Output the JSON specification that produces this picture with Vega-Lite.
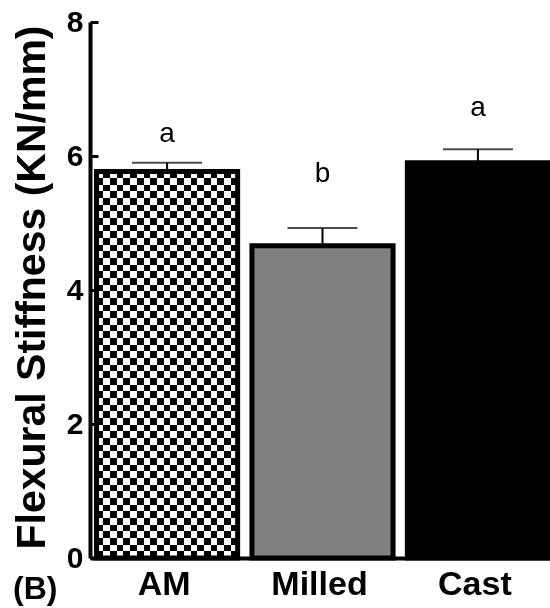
{
  "$schema": "https://vega.github.io/schema/vega-lite/v6.json",
  "width": 460,
  "height": 536,
  "autosize": {"type": "none"},
  "padding": {"left": 90, "top": 22, "right": 0, "bottom": 50},
  "background": "white",
  "config": {
    "font": "Liberation Sans",
    "view": {"stroke": null},
    "axisY": {"titleFontSize": 41, "titleFontWeight": "bold", "titleColor": "black", "titleX": -46, "titleY": 265, "titleBaseline": "alphabetic", "titleAlign": "center", "tickCount": 4, "format": "d", "labelFontSize": 30, "labelFontWeight": "bold", "labelColor": "black", "labelPadding": 15, "tickSize": -8, "tickWidth": 3, "tickColor": "black", "domainColor": "black", "domainWidth": 4, "grid": false, "zindex": 1},
    "axisX": {"labelAngle": 0, "labelFontSize": 34, "labelFontWeight": "bold", "labelColor": "black", "labelPadding": 16, "labelOffset": -3, "tickSize": -7, "tickWidth": 4, "tickColor": "black", "domainColor": "black", "domainWidth": 4, "zindex": 1}
  },
  "title": {"text": "(B)", "orient": "bottom", "anchor": "start", "frame": "group", "dx": -77, "offset": -27, "fontSize": 32, "fontWeight": "bold", "color": "black"},
  "data": {"values": [
    {"group": "AM", "value": 5.77, "err": 5.9, "sig": "a", "sigY": 6.21},
    {"group": "Milled", "value": 4.66, "err": 4.925, "sig": "b", "sigY": 5.61},
    {"group": "Cast", "value": 5.9, "err": 6.1, "sig": "a", "sigY": 6.6}
  ]},
  "encoding": {
    "x": {"field": "group", "type": "nominal", "sort": ["AM", "Milled", "Cast"], "title": null,
      "scale": {"range": [0, 465], "paddingInner": 0.092, "paddingOuter": 0.042}}
  },
  "layer": [
    {
      "transform": [{"filter": "datum.group != 'AM'"}],
      "mark": {"type": "bar", "stroke": "black", "strokeWidth": 5},
      "encoding": {
        "y": {"field": "value", "type": "quantitative", "scale": {"domain": [0, 8]}, "title": "Flexural Stiffness (KN/mm)"},
        "color": {"field": "group", "type": "nominal", "scale": {"domain": ["AM", "Milled", "Cast"], "range": ["#ffffff", "#808080", "#000000"]}, "legend": null}
      }
    },
    {
      "transform": [{"filter": "datum.group == 'AM'"}],
      "mark": {"type": "bar", "fill": {"gradient": "linear", "x1": 0, "y1": 0, "x2": 1, "y2": 0, "stops": [
        {"offset":0,"color":"#000"},{"offset":0.047619,"color":"#000"},
        {"offset":0.047619,"color":"#fff"},{"offset":0.095238,"color":"#fff"},
        {"offset":0.095238,"color":"#000"},{"offset":0.142857,"color":"#000"},
        {"offset":0.142857,"color":"#fff"},{"offset":0.190476,"color":"#fff"},
        {"offset":0.190476,"color":"#000"},{"offset":0.238095,"color":"#000"},
        {"offset":0.238095,"color":"#fff"},{"offset":0.285714,"color":"#fff"},
        {"offset":0.285714,"color":"#000"},{"offset":0.333333,"color":"#000"},
        {"offset":0.333333,"color":"#fff"},{"offset":0.380952,"color":"#fff"},
        {"offset":0.380952,"color":"#000"},{"offset":0.428571,"color":"#000"},
        {"offset":0.428571,"color":"#fff"},{"offset":0.47619,"color":"#fff"},
        {"offset":0.47619,"color":"#000"},{"offset":0.52381,"color":"#000"},
        {"offset":0.52381,"color":"#fff"},{"offset":0.571429,"color":"#fff"},
        {"offset":0.571429,"color":"#000"},{"offset":0.619048,"color":"#000"},
        {"offset":0.619048,"color":"#fff"},{"offset":0.666667,"color":"#fff"},
        {"offset":0.666667,"color":"#000"},{"offset":0.714286,"color":"#000"},
        {"offset":0.714286,"color":"#fff"},{"offset":0.761905,"color":"#fff"},
        {"offset":0.761905,"color":"#000"},{"offset":0.809524,"color":"#000"},
        {"offset":0.809524,"color":"#fff"},{"offset":0.857143,"color":"#fff"},
        {"offset":0.857143,"color":"#000"},{"offset":0.904762,"color":"#000"},
        {"offset":0.904762,"color":"#fff"},{"offset":0.952381,"color":"#fff"},
        {"offset":0.952381,"color":"#000"},{"offset":1,"color":"#000"}
      ]}},
      "encoding": {
        "y": {"field": "value", "type": "quantitative", "scale": {"domain": [0, 8]}, "title": "Flexural Stiffness (KN/mm)"}
      }
    },
    {
      "transform": [{"filter": "datum.group == 'AM'"}],
      "mark": {"type": "bar", "blend": "difference", "fill": {"gradient": "linear", "x1": 0, "y1": 0, "x2": 0, "y2": 1, "stops": [
        {"offset":0,"color":"#fff"},{"offset":0.017241,"color":"#fff"},
        {"offset":0.017241,"color":"#000"},{"offset":0.034483,"color":"#000"},
        {"offset":0.034483,"color":"#fff"},{"offset":0.051724,"color":"#fff"},
        {"offset":0.051724,"color":"#000"},{"offset":0.068966,"color":"#000"},
        {"offset":0.068966,"color":"#fff"},{"offset":0.086207,"color":"#fff"},
        {"offset":0.086207,"color":"#000"},{"offset":0.103448,"color":"#000"},
        {"offset":0.103448,"color":"#fff"},{"offset":0.12069,"color":"#fff"},
        {"offset":0.12069,"color":"#000"},{"offset":0.137931,"color":"#000"},
        {"offset":0.137931,"color":"#fff"},{"offset":0.155172,"color":"#fff"},
        {"offset":0.155172,"color":"#000"},{"offset":0.172414,"color":"#000"},
        {"offset":0.172414,"color":"#fff"},{"offset":0.189655,"color":"#fff"},
        {"offset":0.189655,"color":"#000"},{"offset":0.206897,"color":"#000"},
        {"offset":0.206897,"color":"#fff"},{"offset":0.224138,"color":"#fff"},
        {"offset":0.224138,"color":"#000"},{"offset":0.241379,"color":"#000"},
        {"offset":0.241379,"color":"#fff"},{"offset":0.258621,"color":"#fff"},
        {"offset":0.258621,"color":"#000"},{"offset":0.275862,"color":"#000"},
        {"offset":0.275862,"color":"#fff"},{"offset":0.293103,"color":"#fff"},
        {"offset":0.293103,"color":"#000"},{"offset":0.310345,"color":"#000"},
        {"offset":0.310345,"color":"#fff"},{"offset":0.327586,"color":"#fff"},
        {"offset":0.327586,"color":"#000"},{"offset":0.344828,"color":"#000"},
        {"offset":0.344828,"color":"#fff"},{"offset":0.362069,"color":"#fff"},
        {"offset":0.362069,"color":"#000"},{"offset":0.37931,"color":"#000"},
        {"offset":0.37931,"color":"#fff"},{"offset":0.396552,"color":"#fff"},
        {"offset":0.396552,"color":"#000"},{"offset":0.413793,"color":"#000"},
        {"offset":0.413793,"color":"#fff"},{"offset":0.431034,"color":"#fff"},
        {"offset":0.431034,"color":"#000"},{"offset":0.448276,"color":"#000"},
        {"offset":0.448276,"color":"#fff"},{"offset":0.465517,"color":"#fff"},
        {"offset":0.465517,"color":"#000"},{"offset":0.482759,"color":"#000"},
        {"offset":0.482759,"color":"#fff"},{"offset":0.5,"color":"#fff"},
        {"offset":0.5,"color":"#000"},{"offset":0.517241,"color":"#000"},
        {"offset":0.517241,"color":"#fff"},{"offset":0.534483,"color":"#fff"},
        {"offset":0.534483,"color":"#000"},{"offset":0.551724,"color":"#000"},
        {"offset":0.551724,"color":"#fff"},{"offset":0.568966,"color":"#fff"},
        {"offset":0.568966,"color":"#000"},{"offset":0.586207,"color":"#000"},
        {"offset":0.586207,"color":"#fff"},{"offset":0.603448,"color":"#fff"},
        {"offset":0.603448,"color":"#000"},{"offset":0.62069,"color":"#000"},
        {"offset":0.62069,"color":"#fff"},{"offset":0.637931,"color":"#fff"},
        {"offset":0.637931,"color":"#000"},{"offset":0.655172,"color":"#000"},
        {"offset":0.655172,"color":"#fff"},{"offset":0.672414,"color":"#fff"},
        {"offset":0.672414,"color":"#000"},{"offset":0.689655,"color":"#000"},
        {"offset":0.689655,"color":"#fff"},{"offset":0.706897,"color":"#fff"},
        {"offset":0.706897,"color":"#000"},{"offset":0.724138,"color":"#000"},
        {"offset":0.724138,"color":"#fff"},{"offset":0.741379,"color":"#fff"},
        {"offset":0.741379,"color":"#000"},{"offset":0.758621,"color":"#000"},
        {"offset":0.758621,"color":"#fff"},{"offset":0.775862,"color":"#fff"},
        {"offset":0.775862,"color":"#000"},{"offset":0.793103,"color":"#000"},
        {"offset":0.793103,"color":"#fff"},{"offset":0.810345,"color":"#fff"},
        {"offset":0.810345,"color":"#000"},{"offset":0.827586,"color":"#000"},
        {"offset":0.827586,"color":"#fff"},{"offset":0.844828,"color":"#fff"},
        {"offset":0.844828,"color":"#000"},{"offset":0.862069,"color":"#000"},
        {"offset":0.862069,"color":"#fff"},{"offset":0.87931,"color":"#fff"},
        {"offset":0.87931,"color":"#000"},{"offset":0.896552,"color":"#000"},
        {"offset":0.896552,"color":"#fff"},{"offset":0.913793,"color":"#fff"},
        {"offset":0.913793,"color":"#000"},{"offset":0.931034,"color":"#000"},
        {"offset":0.931034,"color":"#fff"},{"offset":0.948276,"color":"#fff"},
        {"offset":0.948276,"color":"#000"},{"offset":0.965517,"color":"#000"},
        {"offset":0.965517,"color":"#fff"},{"offset":0.982759,"color":"#fff"},
        {"offset":0.982759,"color":"#000"},{"offset":1,"color":"#000"}
      ]}},
      "encoding": {
        "y": {"field": "value", "type": "quantitative", "scale": {"domain": [0, 8]}, "title": "Flexural Stiffness (KN/mm)"}
      }
    },
    {
      "transform": [{"filter": "datum.group == 'AM'"}],
      "mark": {"type": "bar", "fill": "transparent", "stroke": "black", "strokeWidth": 5},
      "encoding": {
        "y": {"field": "value", "type": "quantitative", "scale": {"domain": [0, 8]}, "title": "Flexural Stiffness (KN/mm)"}
      }
    },
    {
      "mark": {"type": "rule", "color": "black", "strokeWidth": 2},
      "encoding": {
        "y": {"field": "value", "type": "quantitative", "scale": {"domain": [0, 8]}, "title": "Flexural Stiffness (KN/mm)"},
        "y2": {"field": "err"}
      }
    },
    {
      "mark": {"type": "tick", "color": "black", "size": 70, "thickness": 2, "orient": "horizontal"},
      "encoding": {
        "y": {"field": "err", "type": "quantitative", "scale": {"domain": [0, 8]}, "title": "Flexural Stiffness (KN/mm)"}
      }
    },
    {
      "mark": {"type": "text", "fontSize": 28, "color": "black", "align": "center", "baseline": "alphabetic"},
      "encoding": {
        "y": {"field": "sigY", "type": "quantitative", "scale": {"domain": [0, 8]}, "title": "Flexural Stiffness (KN/mm)"},
        "text": {"field": "sig"}
      }
    }
  ]
}
